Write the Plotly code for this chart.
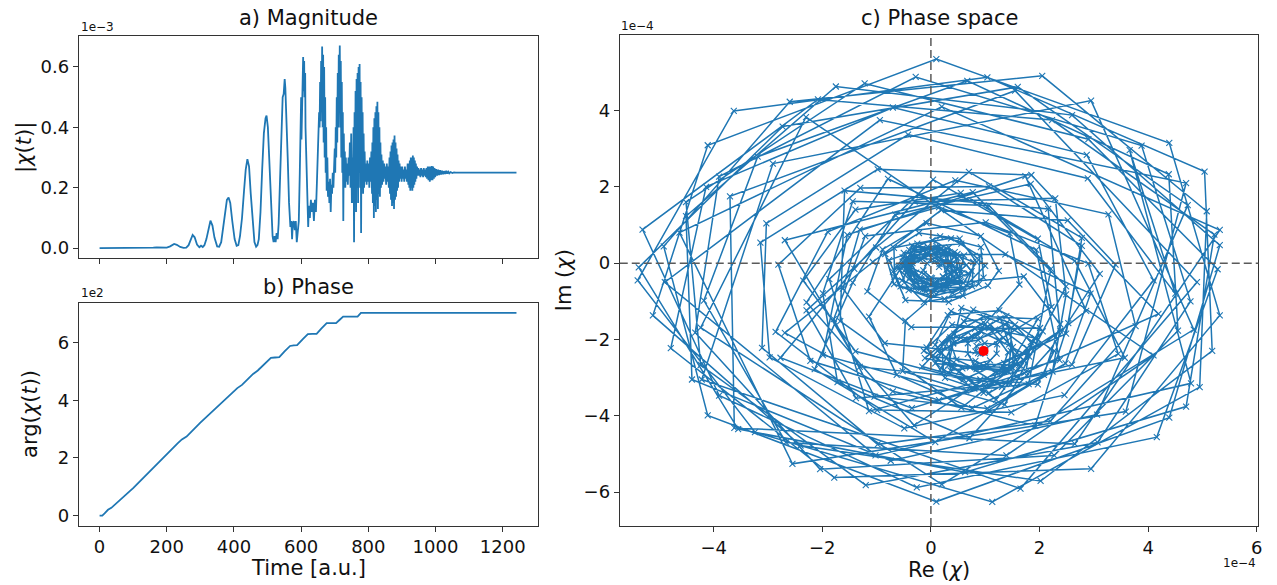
import plotly.graph_objects as go

# ---------------- a) magnitude |chi(t)| (units of 1e-3) ----------------
mag_t_rise = [0, 50, 100, 150, 160, 170, 180, 190, 200, 210, 215, 222, 230, 240, 250,
              258, 265, 272, 277, 283, 290, 297, 302, 307, 312, 318, 324, 330, 336, 342,
              350, 356, 362, 368, 374, 379, 384, 389, 395, 402, 408, 413, 418, 424, 430,
              435, 440, 445, 450, 456, 461, 466, 470, 474, 479, 484, 489, 494, 497, 501,
              506, 511, 515, 518, 521, 524, 527, 530, 533, 537, 541, 545, 548, 551, 553,
              556, 560, 564, 568, 571, 573, 575, 578, 581, 584, 587, 590]
mag_v_rise = [0, 0, 0, 0.001, 0.002, 0.003, 0.002, 0.001, 0.002, 0.006, 0.010, 0.014, 0.011, 0.004, 0.001,
              0.002, 0.010, 0.030, 0.044, 0.036, 0.012, 0.003, 0.008, 0.004, 0.010, 0.030, 0.062, 0.091, 0.075, 0.035,
              0.006, 0.005, 0.020, 0.070, 0.130, 0.160, 0.168, 0.150, 0.090, 0.030, 0.008, 0.010, 0.040, 0.100, 0.190,
              0.260, 0.295, 0.270, 0.180, 0.080, 0.020, 0.005, 0.010, 0.030, 0.120, 0.260, 0.380, 0.430, 0.439, 0.400,
              0.270, 0.120, 0.040, 0.020, 0.040, 0.020, 0.050, 0.030, 0.080, 0.220, 0.380, 0.500, 0.510, 0.560, 0.530,
              0.450, 0.300, 0.150, 0.070, 0.090, 0.030, 0.080, 0.090, 0.060, 0.090, 0.020, 0.070]

mag_t_b8 = [593, 596, 598, 600, 601, 603, 605, 606, 607, 609, 610, 612, 613, 615, 617, 619, 621,
            623, 626, 629, 632, 635, 638, 641, 644, 647, 650]
mag_v_b8 = [0.09, 0.25, 0.42, 0.50, 0.36, 0.55, 0.60, 0.633, 0.52, 0.62, 0.50, 0.58, 0.40, 0.30, 0.18, 0.10, 0.07,
            0.14, 0.10, 0.16, 0.12, 0.15, 0.09, 0.16, 0.12, 0.22, 0.30]

mag_t_b9 = [652, 653.5, 655, 656.5, 658, 659.5, 661, 662.5, 664, 665.5, 667, 668.5, 670, 671.5, 673, 674.5,
            676, 678, 680, 682, 684, 686, 688, 690, 692, 694, 696, 698]
mag_v_b9 = [0.35, 0.45, 0.40, 0.55, 0.42, 0.62, 0.45, 0.668, 0.40, 0.64, 0.35, 0.60, 0.30, 0.50, 0.25, 0.40,
            0.19, 0.30, 0.17, 0.22, 0.15, 0.23, 0.12, 0.21, 0.18, 0.25, 0.20, 0.28]

mag_t_b10 = [700, 701.5, 703, 704.5, 706, 707.5, 709, 710.5, 712, 713.5, 715, 716.5, 718, 719.5, 721, 722.5,
             724, 725.5, 727, 728.5, 730, 731.5, 733, 735, 737, 739, 741, 743, 745, 747, 749, 751]
mag_v_b10 = [0.33, 0.25, 0.40, 0.30, 0.50, 0.35, 0.58, 0.40, 0.64, 0.45, 0.671, 0.40, 0.62, 0.30, 0.55, 0.25,
             0.45, 0.09, 0.38, 0.22, 0.32, 0.20, 0.30, 0.22, 0.28, 0.21, 0.30, 0.24, 0.35, 0.20, 0.38, 0.15]

mag_t_b11 = [753, 754.5, 756, 757.5, 759, 760.5, 762, 763.5, 765, 766.5, 768, 769.5, 771, 772.5, 774, 775.5,
             777, 778.5, 780, 781.5, 783, 784.5, 786, 787.5, 789, 791, 793, 795, 797, 799, 801, 803, 805,
             807, 809, 811]
mag_v_b11 = [0.30, 0.15, 0.40, 0.02, 0.45, 0.18, 0.52, 0.12, 0.56, 0.20, 0.58, 0.15, 0.60, 0.25, 0.61, 0.20,
             0.55, 0.05, 0.50, 0.22, 0.45, 0.18, 0.38, 0.20, 0.32, 0.22, 0.28, 0.21, 0.29, 0.22, 0.28, 0.20, 0.30,
             0.22, 0.32, 0.18]

mag_t_b12 = [812, 813.5, 815, 816.5, 818, 819.5, 821, 822.5, 824, 825.5, 827, 828.5, 830, 831.5, 833, 834.5,
             836, 837.5, 839, 841, 843, 845, 847, 849, 851, 853, 855, 857, 859, 861, 863]
mag_v_b12 = [0.35, 0.15, 0.40, 0.10, 0.43, 0.14, 0.45, 0.12, 0.47, 0.16, 0.485, 0.13, 0.45, 0.18, 0.40, 0.17,
             0.35, 0.20, 0.31, 0.21, 0.29, 0.22, 0.28, 0.23, 0.27, 0.21, 0.28, 0.22, 0.27, 0.20, 0.30]

mag_t_b13 = [864.5, 866, 867.5, 869, 870.5, 872, 873.5, 875, 876.5, 878, 879.5, 881, 882.5, 884, 885.5, 887,
             888.5, 890, 891.5, 893, 895, 897, 899, 901, 903, 905, 907, 909, 911, 913, 915, 917]
mag_v_b13 = [0.18, 0.32, 0.16, 0.34, 0.14, 0.35, 0.15, 0.36, 0.13, 0.373, 0.16, 0.35, 0.17, 0.33, 0.19, 0.31,
             0.20, 0.29, 0.22, 0.28, 0.23, 0.27, 0.22, 0.27, 0.23, 0.26, 0.22, 0.27, 0.23, 0.26, 0.22, 0.28]

mag_t_b14 = [919, 920.5, 922, 923.5, 925, 926.5, 928, 929.5, 931, 932.5, 934, 935.5, 937, 938.5, 940, 941.5,
             943, 945, 947, 949, 951, 953, 955, 957, 959, 961, 963, 965, 967, 969, 971, 973, 975, 977]
mag_v_b14 = [0.21, 0.28, 0.20, 0.29, 0.19, 0.30, 0.20, 0.30, 0.19, 0.307, 0.20, 0.30, 0.21, 0.29, 0.22, 0.28,
             0.23, 0.27, 0.24, 0.265, 0.24, 0.26, 0.235, 0.265, 0.24, 0.26, 0.235, 0.265, 0.24, 0.26, 0.235, 0.265,
             0.23, 0.27]

mag_t_tail = [979, 981, 983, 985, 987, 989, 991, 993, 995, 997, 999, 1002, 1005, 1008, 1011, 1014, 1017,
              1020, 1023, 1026, 1029, 1032, 1035, 1038, 1041, 1045, 1050, 1055, 1060, 1100, 1150, 1200, 1241]
mag_v_tail = [0.225, 0.27, 0.22, 0.27, 0.225, 0.272, 0.225, 0.27, 0.23, 0.265, 0.235, 0.262, 0.24, 0.26, 0.242,
              0.258, 0.244, 0.256, 0.245, 0.255, 0.246, 0.256, 0.247, 0.253, 0.248, 0.252, 0.249, 0.251, 0.25,
              0.25, 0.25, 0.25, 0.25]

# ---------------- b) phase arg(chi(t)) (units of 1e2) ----------------
phase_t = [0, 8, 15, 25, 35, 45, 60, 75, 90, 100, 150, 200, 233, 245, 259, 300, 350, 397, 410, 424,
           440, 457, 471, 490, 510, 522, 535, 550, 567, 578, 588, 605, 620, 633, 646, 660, 676, 690, 704, 714,
           725, 745, 768, 778, 800, 900, 1000, 1100, 1241]
phase_v = [0, 0.0, 0.08, 0.2, 0.27, 0.38, 0.55, 0.72, 0.85, 0.95, 1.55, 2.13, 2.51, 2.64, 2.74, 3.22, 3.78, 4.30, 4.42, 4.53,
           4.72, 4.91, 5.03, 5.25, 5.47, 5.48, 5.49, 5.68, 5.88, 5.90, 5.91, 6.12, 6.29, 6.30, 6.30, 6.48, 6.67, 6.67, 6.67, 6.78,
           6.90, 6.90, 6.90, 7.03, 7.03, 7.03, 7.03, 7.03, 7.03]

# ---------------- c) phase space (units of 1e-4) ----------------
re_a = [.15, .16, .07, -.07, -.14, .00, .28, .49, .45, .10, -.32, -.49, -.20, .29, .57, .49, .19, -.29,
        -.60, -.41, .25, .88, .90, .37, -.25, -.49, -.28, .10, .60, .84, .53, -.22, -.84, -.68, -.04, .58]
im_a = [-.10, -.02, .05, .00, -.19, -.38, -.40, -.17, .19, .40, .25, -.20, -.62, -.62, -.27, .13, .39, .36,
        -.10, -.71, -.94, -.55, .19, .65, .51, .00, -.42, -.65, -.52, .03, .64, .79, .24, -.55, -.89, -.67]
re_a3 = [.30, .32, -.07, -.52, -.33, -.19, .23, .69, .23, .00, -.50, -.39, -.30, .12, .52, .61, .08, -.19,
         -.60, -.32, .07, .56, .33, .19, -.35, -.44, -.23, .00, .38, .39, .33, -.12, -.52, -.39, -.10, .32]
im_a3 = [-.15, .23, .24, .15, -.27, -.67, -.54, -.27, .04, .35, .27, -.22, -.67, -.48, -.34, .20, .29, .08,
         -.15, -.53, -.54, -.48, -.03, .37, .46, -.07, -.34, -.75, -.47, -.08, .41, .18, .04, -.38, -.74, -.53]
re_a4 = [.23, .15, -.12, -.45, -.13, .09, .54, .39, .13, -.16, -.34, -.40, .02, .37, .65, .19, -.05, -.40,
         -.27, -.11, .22, .50, .44, .03, -.28, -.43, -.10, .30, .29, .42, .10, -.16, -.45, -.18, .21, .37]
im_a4 = [-.02, .29, .15, -.06, -.28, -.55, -.44, -.01, .08, .35, .00, -.42, -.40, -.42, -.05, .10, .29, .11,
         -.25, -.68, -.35, -.14, .29, .10, .13, -.23, -.42, -.64, -.17, .16, .45, .11, -.14, -.43, -.68, -.25]
re_a2 = [.37, .23, -.30, -.50, -.18, .14, .76, .78, .31, -.15, -.77, -.56, .05, .60, 1.00, .56, -.06, -.35,
         -.53, -.13, .59, .75, .49, .03, -.68, -.67, -.15, .40, .97, .92, .17, -.40, -.70, -.47, .33, 1.05]
im_a2 = [-.02, .33, .42, -.10, -.43, -.65, -.61, .03, .30, .39, .08, -.61, -.75, -.65, -.07, .51, .43, .06,
         -.45, -1.02, -.85, -.21, .24, .60, .40, -.36, -.69, -.78, -.38, .42, .70, .35, -.22, -.97, -1.02, -.59]
re_b = [1.25, .92, -.08, -.89, -1.17, -.36, .95, 1.63, 1.45, .15, -1.31, -1.62, -.85, .87, 2.22, 1.97, .55, -1.39,
        -2.35, -1.39, .60, 2.49, 2.78, 1.07, -1.30, -2.81, -2.22, .15, 2.60, 3.40, 1.85, -.98, -3.14, -2.97, -.49, 2.46]
im_b = [-.20, .71, 1.05, .36, -.74, -1.68, -1.68, -.56, .78, 1.47, .88, -.67, -2.10, -2.36, -1.15, .64, 1.84, 1.40,
        -.46, -2.31, -3.05, -1.85, .45, 2.01, 1.97, -.04, -2.56, -3.59, -2.66, -.04, 2.31, 2.46, .54, -2.47, -4.33, -3.46]
re_c = [4.10, 2.87, -.70, -4.14, -4.79, -1.78, 2.95, 5.32, 4.39, .10, -4.11, -5.12, -2.40, 2.02, 5.18, 5.04, 1.04, -3.63,
        -5.40, -3.24, 1.13, 4.95, 5.08, 2.05, -2.60, -4.92, -4.11, .10, 4.39, 5.32, 2.60, -1.75, -4.51, -4.40, -.74, 3.06]
im_c = [-.45, 2.84, 4.08, 2.00, -2.23, -5.62, -5.39, -1.37, 3.15, 5.35, 3.09, -1.37, -4.78, -5.71, -2.30, 2.40, 4.87, 3.99,
        -.45, -4.43, -6.26, -3.25, 1.36, 4.91, 4.23, .44, -3.99, -6.25, -4.05, .47, 3.88, 4.63, 1.23, -3.05, -5.18, -3.97]
re_c2 = [4.73, 1.60, -2.73, -5.38, -3.55, .63, 4.70, 5.22, 2.23, -2.08, -5.31, -3.90, -.26, 4.16, 5.28, 2.90, -1.22, -4.51,
         -4.24, -1.20, 3.07, 4.78, 3.88, -.28, -3.90, -4.34, -2.04, 2.27, 4.55, 4.38, .67, -3.19, -4.18, -2.67, 1.39, 4.10]
im_c2 = [1.52, 4.62, 3.58, -.11, -4.35, -5.48, -3.76, .75, 3.75, 4.29, .88, -3.47, -5.88, -4.56, -.16, 3.25, 4.71, 1.60,
         -2.67, -5.82, -4.70, -1.00, 3.08, 4.88, 2.27, -1.82, -5.40, -5.04, -1.77, 2.33, 4.78, 2.79, -.98, -4.70, -5.04, -2.42]
re_c3 = [-2.30, -4.24, .20, 4.84, 2.95, -2.91, -4.22, 1.65, 4.90, 1.55, -3.70, -3.62, 2.65, 5.32, .20, -4.63,
         -2.55, 3.59, 4.70, -.94, -4.90, -1.02, 4.79, 3.66]
im_c3 = [3.83, -1.69, -5.80, -1.74, 4.26, 2.61, -3.05, -5.91, -.50, 4.52, 1.75, -4.32, -4.74, .87, 4.10, .80,
         -5.26, -3.89, 2.10, 3.75, -.50, -5.04, -3.15, 2.96]
re_d = [4.50, 2.89, -.42, -3.03, -3.11, -.98, 2.20, 3.77, 3.27, .45, -1.90, -2.86, -.99, 1.48, 3.45, 2.90, 1.01, -1.21,
        -1.79, -1.04, 1.04, 2.48, 2.94, 1.37, -.39, -1.14, -.63, .76, 2.08, 2.38, 1.71, .32, -.47, -.52, .65, 1.80]
im_d = [-.80, 2.22, 3.37, 1.04, -2.22, -4.75, -4.14, -1.65, 1.28, 2.17, .82, -1.80, -3.85, -3.91, -2.38, -.01, 1.07, .71,
        -1.47, -3.50, -3.81, -2.63, -.80, .23, .22, -1.40, -2.93, -3.80, -2.93, -1.60, -.35, -.54, -1.51, -2.83, -3.34, -3.17]
re_b2 = [2.21, 1.07, -1.44, -1.99, -1.72, .71, 2.20, 3.11, 1.84, -.66, -1.44, -2.14, .08, 2.24, 2.49, 2.29, -.30, -1.41,
         -2.77, -.35, 1.72, 4.19, 2.52, .19, -1.07, -2.69, -.70, 1.92, 2.53, 2.78, .70, -1.01, -2.29, -1.38, 1.00, 3.57]
im_b2 = [-.15, 1.51, 1.62, -.79, -3.12, -4.59, -2.26, -.28, 2.08, 1.27, -.51, -2.78, -4.69, -2.84, -.82, 1.70, 1.61, -.15,
         -2.48, -3.80, -2.88, -1.33, 1.12, 1.39, .03, -1.83, -3.36, -4.26, -1.57, .66, 2.39, .41, -1.24, -3.54, -3.22, -2.48]
re_b3 = [2.65, .04, -1.87, -1.14, 2.37, 1.94, -.79, -2.29, -.31, 2.38, 2.16, -1.59, -1.67, .56, 2.86, 1.74,
         -1.54, -1.99, 1.36, 2.49, .77, -2.69, -1.31, 1.97]
im_b3 = [.06, 2.19, -.42, -3.88, -2.54, .35, 2.21, -1.03, -4.25, -1.77, 1.42, 1.90, -1.52, -3.79, -1.25, 2.28,
         .74, -2.41, -3.71, -.61, 1.86, .60, -2.72, -3.18]
re_e2 = [2.27, 1.55, .78, .36, -.16, .70, 1.47, 1.56, 1.97, .97, .43, -.11, .72, 1.31, 1.72, 2.01, 1.07, .39,
         -.13, .52, 1.20, 1.66, 1.91, 1.18, .37, .08, .43, .97, 1.35, 1.96, 1.37, .56, .41, .19, .80, 1.42]
im_e2 = [-2.30, -1.61, -1.22, -1.95, -2.71, -3.05, -3.17, -2.40, -1.46, -1.40, -1.85, -2.49, -2.73, -3.24, -2.57, -1.70, -1.71, -1.61,
         -2.30, -2.84, -3.58, -2.70, -1.96, -1.74, -1.26, -2.14, -2.75, -3.40, -2.62, -2.13, -1.61, -1.17, -2.10, -2.75, -3.29, -2.84]
re_e3 = [1.47, 1.48, .91, .36, .08, .82, 1.30, 1.81, 1.28, .97, .55, .08, .82, 1.18, 1.72, 1.40, 1.09, .71,
         .12, .58, 1.03, 1.62, 1.44, 1.28, .75, .33, .36, .97, 1.51, 1.51, 1.40, .87, .41, .32, .89, 1.39]
im_e3 = [-2.30, -1.69, -1.96, -1.95, -2.63, -2.72, -2.86, -2.45, -2.04, -1.55, -1.95, -2.46, -2.56, -2.86, -2.57, -2.05, -1.61, -1.99,
         -2.30, -2.76, -2.65, -2.68, -2.13, -1.45, -1.91, -2.19, -2.81, -2.70, -2.75, -2.20, -1.56, -2.02, -2.10, -2.68, -2.74, -2.80]
re_e = [2.06, 1.26, .31, -.08, .26, 1.07, 1.75, 1.84, 1.39, .61, .20, .23, .91, 1.47, 1.77, 1.34, .81, .34,
        .47, .84, 1.31, 1.42, 1.25, .93, .68, .68, .80, 1.09, 1.21, 1.22, .99, .84, .82, .91, .99, 1.00, .97]
im_e = [-1.79, -1.24, -1.36, -2.21, -3.01, -3.40, -2.85, -2.07, -1.39, -1.53, -2.09, -2.82, -3.05, -2.80, -2.23, -1.77, -1.72, -2.00,
        -2.53, -2.78, -2.79, -2.34, -2.02, -1.80, -2.10, -2.38, -2.66, -2.55, -2.37, -2.13, -2.10, -2.17, -2.31, -2.38, -2.36, -2.31, -2.30]

mag_t = mag_t_rise + mag_t_b8 + mag_t_b9 + mag_t_b10 + mag_t_b11 + mag_t_b12 + mag_t_b13 + mag_t_b14 + mag_t_tail
mag_v = mag_v_rise + mag_v_b8 + mag_v_b9 + mag_v_b10 + mag_v_b11 + mag_v_b12 + mag_v_b13 + mag_v_b14 + mag_v_tail
re_all = (re_a + re_a3 + re_a4 + re_a2 + re_b + re_c + re_c2 + re_c3 + re_d + re_b2 + re_b3
          + re_e2 + re_e3 + re_e)
im_all = (im_a + im_a3 + im_a4 + im_a2 + im_b + im_c + im_c2 + im_c3 + im_d + im_b2 + im_b3
          + im_e2 + im_e3 + im_e)

BLUE = "#1f77b4"
FONT = "DejaVu Sans"
W, H = 1277, 585

fig = go.Figure()
fig.add_trace(go.Scatter(x=mag_t, y=mag_v, mode="lines", line=dict(color=BLUE, width=1.8),
                         xaxis="x", yaxis="y", showlegend=False, hoverinfo="skip"))
fig.add_trace(go.Scatter(x=phase_t, y=phase_v, mode="lines", line=dict(color=BLUE, width=1.8),
                         xaxis="x2", yaxis="y2", showlegend=False, hoverinfo="skip"))
fig.add_trace(go.Scatter(x=re_all, y=im_all, mode="lines+markers",
                         line=dict(color=BLUE, width=1.5),
                         marker=dict(symbol="x-thin", size=6, color=BLUE, line=dict(width=1.1, color=BLUE)),
                         xaxis="x3", yaxis="y3", showlegend=False, hoverinfo="skip"))
fig.add_trace(go.Scatter(x=[re_all[-1]], y=[im_all[-1]], mode="markers",
                         marker=dict(color="red", size=10),
                         xaxis="x3", yaxis="y3", showlegend=False, hoverinfo="skip"))

ax = dict(showline=True, mirror=True, linecolor="#333", linewidth=1, ticks="outside", ticklen=5,
          tickwidth=1, tickcolor="#333", showgrid=False, zeroline=False,
          tickfont=dict(family=FONT, size=18, color="#111"))

def px(x):
    return x / W

def py(y):
    return 1 - y / H

fig.update_layout(
    width=W, height=H, margin=dict(l=0, r=0, t=0, b=0),
    paper_bgcolor="white", plot_bgcolor="white", showlegend=False,
    xaxis=dict(ax, domain=[px(79), px(540)], anchor="y", range=[-62, 1306],
               tickvals=[0, 200, 400, 600, 800, 1000, 1200], showticklabels=False),
    yaxis=dict(ax, domain=[py(258.3), py(35.7)], anchor="x", range=[-0.0335, 0.7035],
               tickvals=[0, 0.2, 0.4, 0.6], ticktext=["0.0", "0.2", "0.4", "0.6"]),
    xaxis2=dict(ax, domain=[px(79), px(540)], anchor="y2", range=[-62, 1306],
                tickvals=[0, 200, 400, 600, 800, 1000, 1200]),
    yaxis2=dict(ax, domain=[py(525.7), py(302.7)], anchor="x2", range=[-0.35, 7.38],
                tickvals=[0, 2, 4, 6]),
    xaxis3=dict(ax, domain=[px(621.7), px(1262.3)], anchor="y3", range=[-5.73, 6.03],
                tickvals=[-4, -2, 0, 2, 4, 6]),
    yaxis3=dict(ax, domain=[py(526), py(35)], anchor="x3", range=[-6.89, 5.98],
                tickvals=[-6, -4, -2, 0, 2, 4]),
    shapes=[
        dict(type="line", xref="x3", yref="y3 domain", x0=0, x1=0, y0=0, y1=1, layer="above",
             line=dict(color="#5a5a5a", width=1.5, dash="8px,4px")),
        dict(type="line", xref="x3 domain", yref="y3", x0=0, x1=1, y0=0, y1=0, layer="above",
             line=dict(color="#5a5a5a", width=1.5, dash="8px,4px")),
    ],
)

def note(text, x, y, size, angle=0, xanchor="center", color="#111"):
    fig.add_annotation(text=text, x=px(x), y=py(y), xref="paper", yref="paper", showarrow=False,
                       xanchor=xanchor, yanchor="middle", textangle=angle,
                       font=dict(family=FONT, size=size, color=color))

note("a) Magnitude", 309.5, 18, 21)
note("b) Phase", 309.5, 287, 21)
note("c) Phase space", 942, 18, 21)
note("|<i>χ</i>(<i>t</i>)|", 24, 147, 21, angle=-90)
note("arg(<i>χ</i>(<i>t</i>))", 30, 414, 21, angle=-90)
note("Time [a.u.]", 309.5, 568, 21)
note("Im (<i>χ</i>)", 566, 280, 21, angle=-90)
note("Re (<i>χ</i>)", 942, 570, 21)
note("1e\u22123", 79, 27, 12, xanchor="left")
note("1e2", 79, 293, 12, xanchor="left")
note("1e\u22124", 621, 26, 12, xanchor="left")
note("1e\u22124", 1262, 563, 12, xanchor="right")

fig.write_html("out.html")
